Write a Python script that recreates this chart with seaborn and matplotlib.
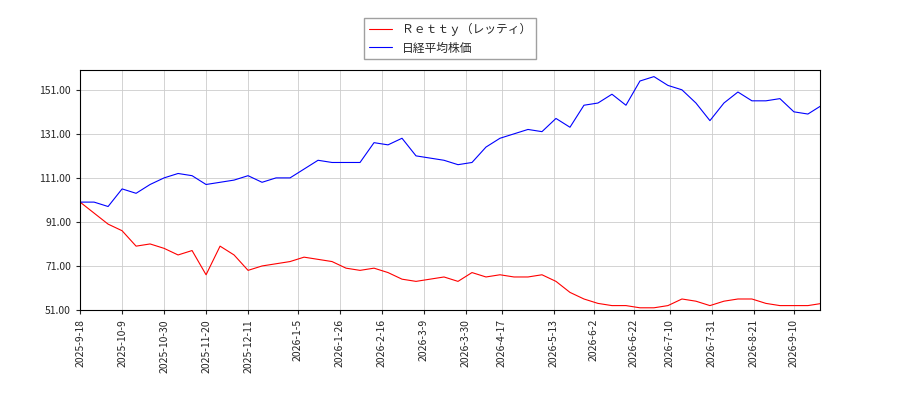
import matplotlib
matplotlib.use("Agg")
import matplotlib.pyplot as plt
import pandas as pd
import seaborn as sns

start = "2025-09-18"
nikkei = [100, 100, 98, 106, 104, 108, 111, 113, 112, 108, 109, 110, 112, 109, 111,
          111, 115, 119, 118, 118, 118, 127, 126, 129, 121, 120, 119, 117, 118, 125,
          129, 131, 133, 132, 138, 134, 144, 145, 149, 144, 155, 157, 153, 151, 145,
          137, 145, 150, 146, 146, 147, 141, 140, 144]
retty = [100, 95, 90, 87, 80, 81, 79, 76, 78, 67, 80, 76, 69, 71, 72,
         73, 75, 74, 73, 70, 69, 70, 68, 65, 64, 65, 66, 64, 68, 66,
         67, 66, 66, 67, 64, 59, 56, 54, 53, 53, 52, 52, 53, 56, 55,
         53, 55, 56, 56, 54, 53, 53, 53, 54]
tick_dates = ["2025-09-18", "2025-10-09", "2025-10-30", "2025-11-20", "2025-12-11",
              "2026-01-05", "2026-01-26", "2026-02-16", "2026-03-09", "2026-03-30",
              "2026-04-17", "2026-05-13", "2026-06-02", "2026-06-22", "2026-07-10",
              "2026-07-31", "2026-08-21", "2026-09-10"]
dates = pd.date_range(start, periods=len(nikkei), freq="7D")

df = pd.DataFrame({"date": dates, "Ｒｅｔｔｙ（レッティ）": retty, "日経平均株価": nikkei})
long = df.melt("date", var_name="series", value_name="value")

sns.set_style("white")
plt.rcParams["font.family"] = ["Noto Sans CJK JP", "DejaVu Sans"]

fig, ax = plt.subplots(figsize=(9, 4), dpi=100)
fig.subplots_adjust(left=0.089, right=0.911, top=0.825, bottom=0.225)
sns.lineplot(data=long, x="date", y="value", hue="series",
             palette=["red", "blue"], linewidth=0.8, ax=ax)

ticks = pd.to_datetime(tick_dates)
ax.set_xticks(ticks)
ax.set_xticklabels([f"{d.year}-{d.month}-{d.day}" for d in ticks], rotation=90, fontsize=7.5)
ax.set_yticks([51, 71, 91, 111, 131, 151])
ax.set_yticklabels([f"{v:.2f}" for v in [51, 71, 91, 111, 131, 151]], fontsize=7.5)
ax.set_xlim(pd.Timestamp(start), pd.Timestamp("2026-09-23"))
ax.set_ylim(51, 160)
ax.grid(True, color="#cccccc", linewidth=0.6)
for s in ax.spines.values():
    s.set_color("black"); s.set_linewidth(0.8)
ax.tick_params(axis="both", which="both", length=3, direction="out", bottom=True, left=True)
ax.set_xlabel(""); ax.set_ylabel("")
ax.legend(loc="lower center", bbox_to_anchor=(0.5, 1.02), fontsize=8.5, frameon=True,
          fancybox=False, edgecolor="#888888")
fig.savefig("out.png")
